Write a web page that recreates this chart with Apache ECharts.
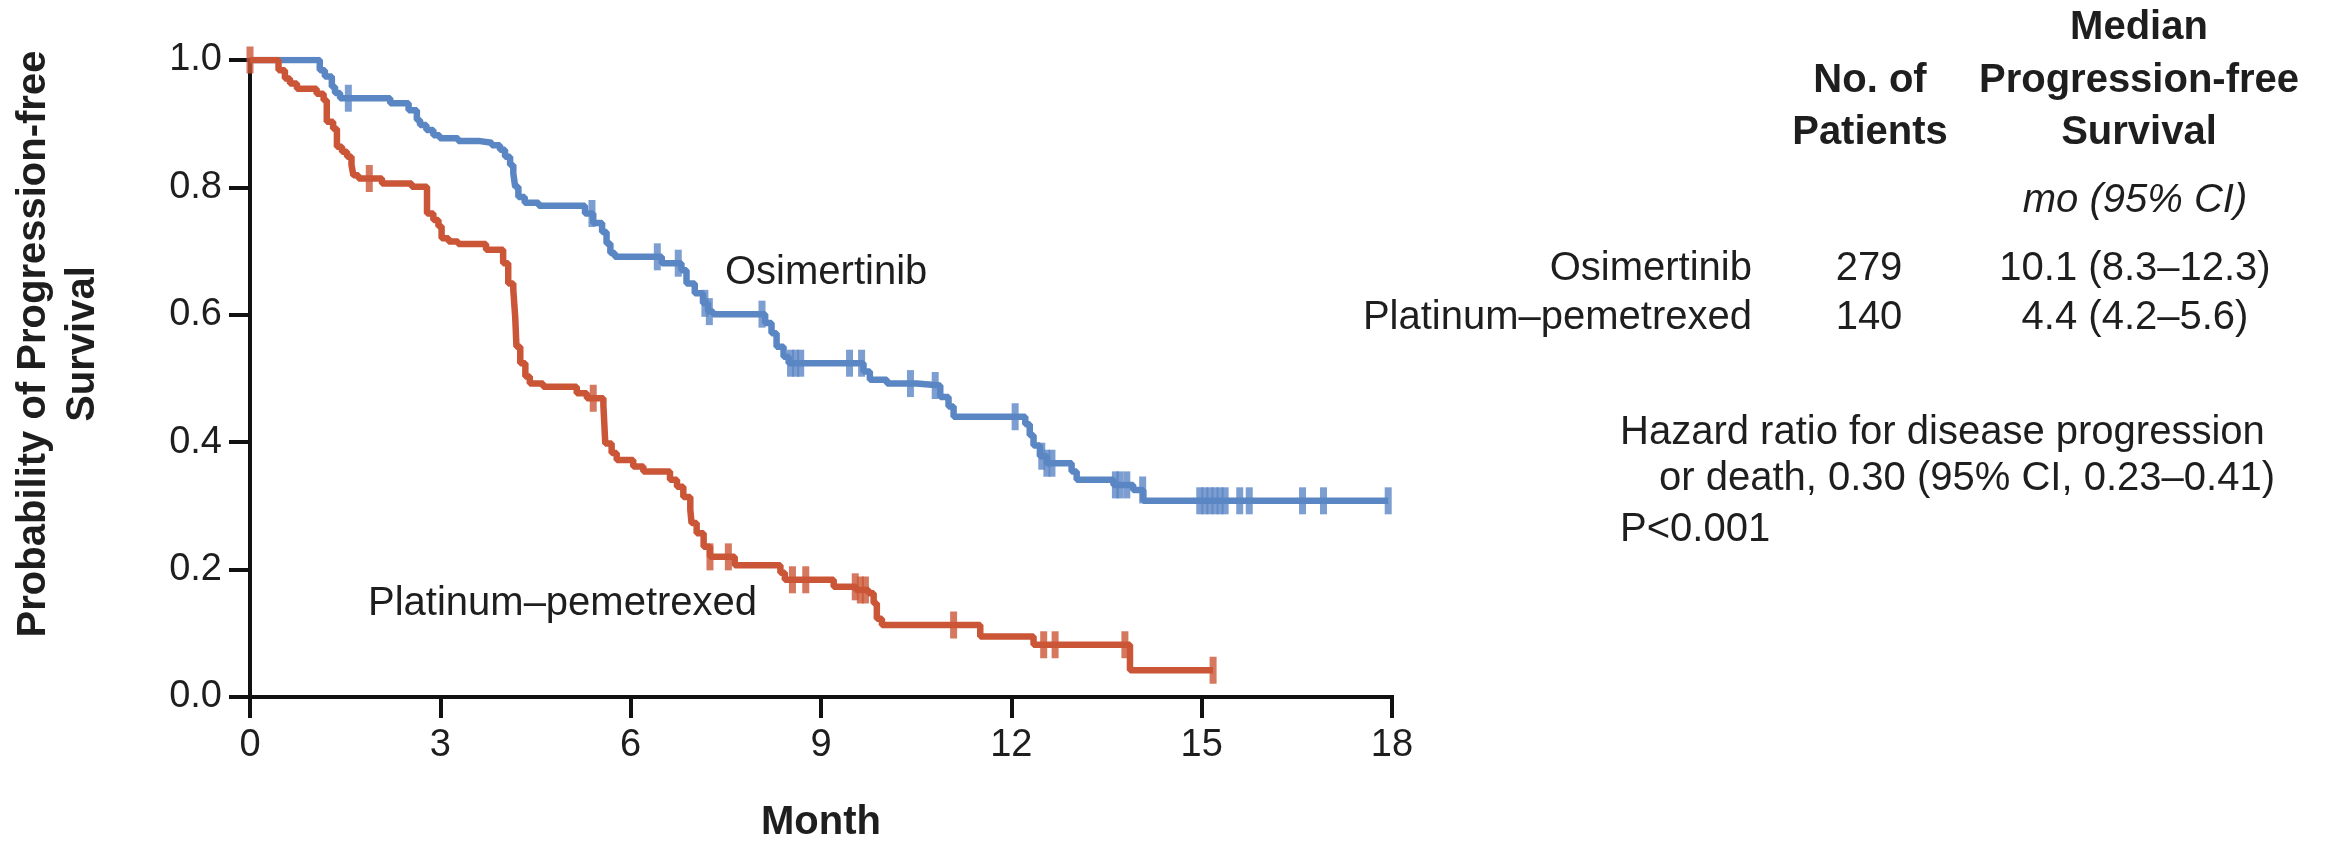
<!DOCTYPE html>
<html>
<head>
<meta charset="utf-8">
<title>Progression-free Survival</title>
<script src="https://cdn.jsdelivr.net/npm/echarts@6/dist/echarts.min.js"></script>
<style>
  html, body { margin: 0; padding: 0; background: #ffffff; }
  #chart { width: 2328px; height: 845px; }
</style>
</head>
<body>
<div id="chart"></div>
<script>
// Kaplan-Meier steps: [month, probability after the drop]
const osimertinibSteps = [
  [0, 1.0], [1.10, 0.984], [1.18, 0.974], [1.29, 0.958], [1.34, 0.948], [1.42, 0.940],
  [2.21, 0.932], [2.50, 0.921], [2.63, 0.906], [2.68, 0.898], [2.78, 0.890], [2.89, 0.882],
  [2.99, 0.877], [3.28, 0.873], [3.60, 0.870], [3.81, 0.866], [3.94, 0.859], [4.02, 0.848],
  [4.10, 0.835], [4.15, 0.822], [4.18, 0.801], [4.23, 0.785], [4.33, 0.776], [4.55, 0.771],
  [5.28, 0.759], [5.41, 0.744], [5.55, 0.730], [5.62, 0.712], [5.68, 0.697], [5.75, 0.691],
  [6.49, 0.681], [6.80, 0.670], [6.88, 0.649], [7.01, 0.634], [7.14, 0.618], [7.22, 0.605],
  [7.30, 0.601], [8.12, 0.587], [8.22, 0.571], [8.30, 0.550], [8.41, 0.534], [8.49, 0.524],
  [9.67, 0.511], [9.77, 0.498], [10.04, 0.492], [10.51, 0.489], [10.88, 0.471], [11.01, 0.456],
  [11.09, 0.440], [12.22, 0.428], [12.29, 0.411], [12.35, 0.395], [12.45, 0.378], [12.56, 0.367],
  [12.95, 0.354], [13.03, 0.341], [13.61, 0.333], [13.92, 0.325], [14.08, 0.308], [17.94, 0.308]
];
const osimertinibCensored = [
  1.55, 5.39, 6.42, 6.75, 7.17, 7.24, 8.07, 8.52, 8.60, 8.68, 9.45, 9.64, 10.41, 10.80,
  12.06, 12.48, 12.56, 12.64, 13.64, 13.71, 13.82, 14.07, 14.97, 15.05, 15.13, 15.21,
  15.29, 15.37, 15.60, 15.75, 16.59, 16.92, 17.94
];

const platinumSteps = [
  [0, 1.0], [0.45, 0.984], [0.55, 0.971], [0.63, 0.963], [0.74, 0.955], [1.05, 0.947],
  [1.16, 0.937], [1.21, 0.903], [1.31, 0.892], [1.37, 0.864], [1.45, 0.856], [1.53, 0.848],
  [1.60, 0.835], [1.63, 0.819], [1.71, 0.814], [2.08, 0.806], [2.55, 0.801], [2.79, 0.759],
  [2.89, 0.749], [2.97, 0.739], [3.02, 0.720], [3.13, 0.715], [3.28, 0.711], [3.72, 0.702],
  [3.99, 0.681], [4.07, 0.649], [4.15, 0.639], [4.18, 0.597], [4.20, 0.550], [4.26, 0.524],
  [4.34, 0.503], [4.41, 0.492], [4.62, 0.487], [5.15, 0.477], [5.31, 0.469], [5.57, 0.458],
  [5.60, 0.398], [5.70, 0.383], [5.78, 0.372], [6.04, 0.362], [6.20, 0.354], [6.62, 0.341],
  [6.73, 0.330], [6.83, 0.314], [6.94, 0.294], [6.96, 0.273], [7.04, 0.257], [7.15, 0.236],
  [7.25, 0.220], [7.64, 0.207], [8.36, 0.195], [8.43, 0.184], [9.20, 0.173], [9.55, 0.168],
  [9.75, 0.163], [9.83, 0.147], [9.88, 0.123], [9.96, 0.113], [11.51, 0.095], [12.35, 0.082],
  [13.87, 0.042], [15.18, 0.042]
];
const platinumCensored = [0, 1.88, 5.41, 7.25, 7.54, 8.55, 8.76, 9.54, 9.62, 9.70, 11.09, 12.51, 12.69, 13.79, 15.18];

const monthTicks = [0, 3, 6, 9, 12, 15, 18];
const probabilityTicks = [0.0, 0.2, 0.4, 0.6, 0.8, 1.0];

const groupNames = ['Osimertinib', 'Platinum\u2013pemetrexed'];
const patientCounts = ['279', '140'];
const medianPfs = ['10.1 (8.3\u201312.3)', '4.4 (4.2\u20135.6)'];
const hazardLines = [
  'Hazard ratio for disease progression',
  'or death, 0.30 (95% CI, 0.23\u20130.41)',
  'P<0.001'
];

const BLUE = '#5b86c4';
const RED = '#cb5637';
const INK = '#1e1e1e';
const FONT = '"Liberation Sans", Arial, sans-serif';

// survival level in force at time t (last step at or before t)
function survivalAt(steps, t) {
  let s = steps[0][1];
  for (const [tt, ss] of steps) { if (tt <= t + 1e-9) s = ss; }
  return s;
}
const censorPoints = (steps, times) => times.map(t => [t, survivalAt(steps, t)]);

const chart = echarts.init(document.getElementById('chart'), null, { renderer: 'canvas' });

function txt(x, y, text, opts) {
  return {
    type: 'text', x: x, y: y, silent: true,
    rotation: opts.rotation || 0,
    style: {
      text: text,
      fill: INK,
      font: (opts.italic ? 'italic ' : '') + (opts.bold ? 'bold ' : '') + (opts.size || 40) + 'px ' + FONT,
      textAlign: opts.align || 'left',
      textVerticalAlign: 'middle'
    }
  };
}

const axisLineStyle = { color: '#111', width: 4, cap: 'square' };

const option = {
  backgroundColor: '#ffffff',
  animation: false,
  grid: { left: 250, right: 936, top: 60, bottom: 148, containLabel: false },
  xAxis: {
    type: 'value', min: monthTicks[0], max: monthTicks[monthTicks.length - 1], interval: 3,
    axisLine: { show: true, lineStyle: axisLineStyle },
    axisTick: { show: true, length: 21, lineStyle: { color: '#111', width: 4 } },
    axisLabel: { fontSize: 38, color: INK, fontFamily: FONT, margin: 30 },
    splitLine: { show: false }
  },
  yAxis: {
    type: 'value', min: probabilityTicks[0], max: probabilityTicks[probabilityTicks.length - 1], interval: 0.2,
    axisLine: { show: true, lineStyle: axisLineStyle },
    axisTick: { show: true, length: 21, lineStyle: { color: '#111', width: 4 } },
    axisLabel: { fontSize: 38, color: INK, fontFamily: FONT, margin: 28, formatter: v => v.toFixed(1) },
    splitLine: { show: false }
  },
  series: [
    {
      name: groupNames[0], type: 'line', step: 'end', data: osimertinibSteps,
      showSymbol: false, lineStyle: { color: BLUE, width: 6.5 }, z: 2
    },
    {
      name: groupNames[0] + ' censored', type: 'scatter', data: censorPoints(osimertinibSteps, osimertinibCensored),
      symbol: 'rect', symbolSize: [7, 27], itemStyle: { color: BLUE }, z: 2
    },
    {
      name: groupNames[1], type: 'line', step: 'end', data: platinumSteps,
      showSymbol: false, lineStyle: { color: RED, width: 6.5 }, z: 3
    },
    {
      name: groupNames[1] + ' censored', type: 'scatter', data: censorPoints(platinumSteps, platinumCensored),
      symbol: 'rect', symbolSize: [7, 27], itemStyle: { color: RED }, z: 3
    }
  ],
  graphic: [
    // axis titles
    txt(34, 344, 'Probability of Progression-free', { bold: true, align: 'center', rotation: Math.PI / 2 }),
    txt(83, 344, 'Survival', { bold: true, align: 'center', rotation: Math.PI / 2 }),
    txt(821, 823, 'Month', { bold: true, align: 'center' }),
    // curve labels
    txt(725, 273, groupNames[0], {}),
    txt(368, 604, groupNames[1], {}),
    // summary table headers
    txt(2139, 28, 'Median', { bold: true, align: 'center' }),
    txt(1870, 81, 'No. of', { bold: true, align: 'center' }),
    txt(2139, 81, 'Progression-free', { bold: true, align: 'center' }),
    txt(1870, 133, 'Patients', { bold: true, align: 'center' }),
    txt(2139, 133, 'Survival', { bold: true, align: 'center' }),
    txt(2135, 201, 'mo (95% CI)', { italic: true, align: 'center' }),
    // summary table rows
    txt(1752, 269, groupNames[0], { align: 'right' }),
    txt(1869, 269, patientCounts[0], { align: 'center' }),
    txt(2135, 269, medianPfs[0], { align: 'center' }),
    txt(1752, 318, groupNames[1], { align: 'right' }),
    txt(1869, 318, patientCounts[1], { align: 'center' }),
    txt(2135, 318, medianPfs[1], { align: 'center' }),
    // hazard ratio note
    txt(1620, 433, hazardLines[0], {}),
    txt(1659, 479, hazardLines[1], {}),
    txt(1620, 530, hazardLines[2], {})
  ]
};

chart.setOption(option);
</script>
</body>
</html>
